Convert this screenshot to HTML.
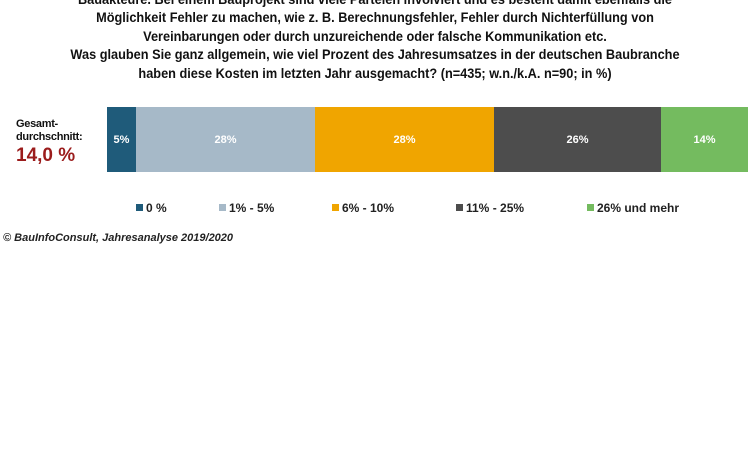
<!DOCTYPE html>
<html><head><meta charset="utf-8"><style>
body{margin:0;width:750px;height:450px;background:#fff;position:relative;overflow:hidden;font-family:"Liberation Sans",Arial,sans-serif;}
.t{position:absolute;left:0;width:750px;text-align:center;font-weight:bold;font-size:14px;color:#111;white-space:nowrap;transform:scaleX(0.91);transform-origin:375px 0;line-height:18px}
.seg{position:absolute;top:107px;height:65px;color:#fff;font-size:11px;font-weight:bold;display:flex;align-items:center;justify-content:center}
.lg{position:absolute;top:201px;font-size:12px;font-weight:bold;color:#222}
.lg i{display:inline-block;width:7px;height:7px;margin-right:3px;vertical-align:1px}
</style></head><body>
<div class="t" style="top:-10px">Bauakteure. Bei einem Bauprojekt sind viele Parteien involviert und es besteht damit ebenfalls die</div>
<div class="t" style="top:8px">Möglichkeit Fehler zu machen, wie z. B. Berechnungsfehler, Fehler durch Nichterfüllung von</div>
<div class="t" style="top:27px">Vereinbarungen oder durch unzureichende oder falsche Kommunikation etc.</div>
<div class="t" style="top:45px">Was glauben Sie ganz allgemein, wie viel Prozent des Jahresumsatzes in der deutschen Baubranche</div>
<div class="t" style="top:64px">haben diese Kosten im letzten Jahr ausgemacht? (n=435; w.n./k.A. n=90; in %)</div>
<div style="position:absolute;left:16px;top:118px;font-size:11px;font-weight:bold;line-height:13px;color:#111;letter-spacing:-0.3px">Gesamt-<br>durchschnitt:</div>
<div style="position:absolute;left:16px;top:145px;font-size:19px;font-weight:bold;color:#9b1c1c">14,0 %</div>
<div class="seg" style="left:107px;width:29px;background:#1f5b7a">5%</div>
<div class="seg" style="left:136px;width:179px;background:#a6b9c8">28%</div>
<div class="seg" style="left:315px;width:179px;background:#f0a500">28%</div>
<div class="seg" style="left:494px;width:167px;background:#4d4d4d">26%</div>
<div class="seg" style="left:661px;width:87px;background:#74bb5f">14%</div>
<div class="lg" style="left:136px"><i style="background:#1f5b7a"></i>0 %</div>
<div class="lg" style="left:219px"><i style="background:#a6b9c8"></i>1% - 5%</div>
<div class="lg" style="left:332px"><i style="background:#f0a500"></i>6% - 10%</div>
<div class="lg" style="left:456px"><i style="background:#4d4d4d"></i>11% - 25%</div>
<div class="lg" style="left:587px"><i style="background:#74bb5f"></i>26% und mehr</div>
<div style="position:absolute;left:3px;top:232px;font-size:11px;font-style:italic;font-weight:bold;color:#222">© BauInfoConsult, Jahresanalyse 2019/2020</div>
</body></html>
